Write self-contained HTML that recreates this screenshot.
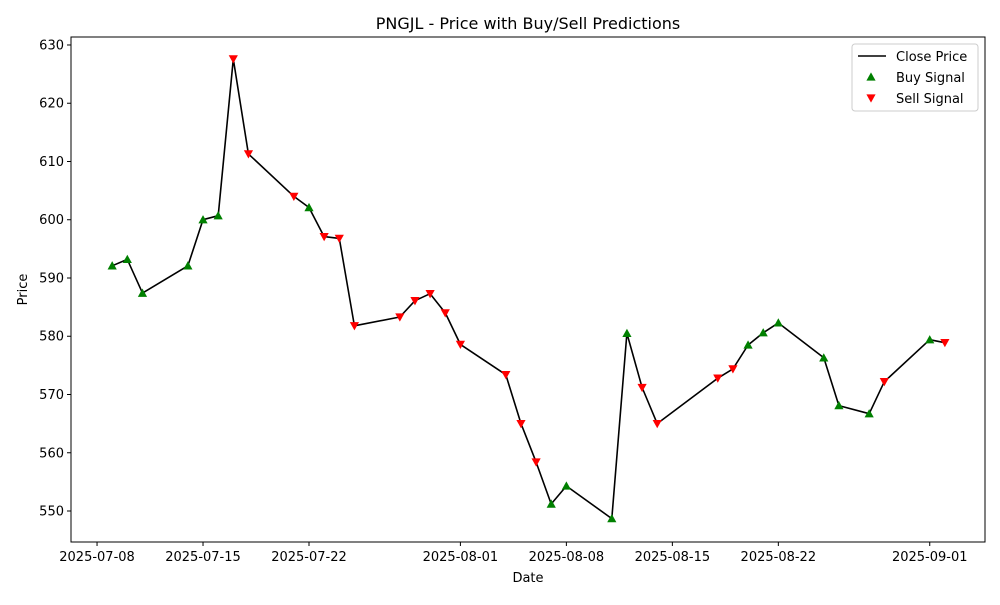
<!DOCTYPE html>
<html><head><meta charset="utf-8"><style>
body{margin:0;background:#fff;font-family:"Liberation Sans","DejaVu Sans",sans-serif}
</style></head><body>
<svg width="1000" height="600" id="c" font-family="DejaVu Sans, Liberation Sans, sans-serif">
<rect width="1000" height="600" fill="#fff"/>
</svg>
<script>
const dates=["2025-07-09","2025-07-10","2025-07-11","2025-07-14","2025-07-15","2025-07-16","2025-07-17","2025-07-18","2025-07-21","2025-07-22","2025-07-23","2025-07-24","2025-07-25","2025-07-28","2025-07-29","2025-07-30","2025-07-31","2025-08-01","2025-08-04","2025-08-05","2025-08-06","2025-08-07","2025-08-08","2025-08-11","2025-08-12","2025-08-13","2025-08-14","2025-08-18","2025-08-19","2025-08-20","2025-08-21","2025-08-22","2025-08-25","2025-08-26","2025-08-28","2025-08-29","2025-09-01","2025-09-02"];
const prices=[592.1,593.2,587.4,592.1,600.0,600.7,627.6,611.3,604.0,602.1,597.1,596.8,581.8,583.3,586.1,587.3,584.0,578.6,573.4,565.0,558.4,551.2,554.3,548.7,580.5,571.2,565.0,572.8,574.4,578.5,580.6,582.3,576.3,568.1,566.7,572.2,579.4,578.9];
const signals=["B","B","B","B","B","B","S","S","S","B","S","S","S","S","S","S","S","S","S","S","S","B","B","B","B","S","S","S","S","B","B","B","B","B","B","S","B","S"];
const yTicks=[550,560,570,580,590,600,610,620,630];
const xTicks=["2025-07-08","2025-07-15","2025-07-22","2025-08-01","2025-08-08","2025-08-15","2025-08-22","2025-09-01"];
const NS="http://www.w3.org/2000/svg",svg=document.getElementById('c');
const L=71,R=985,T=37,B=542;
const d0=Date.UTC(2025,6,8);
function dayOf(s){const p=s.split('-');return (Date.UTC(+p[0],+p[1]-1,+p[2])-d0)/864e5;}
const xMin=-1.72,xMax=58.65,yMin=544.68,yMax=631.37;
function X(s){return L+(dayOf(s)-xMin)/(xMax-xMin)*(R-L);}
function Y(v){return B-(v-yMin)/(yMax-yMin)*(B-T);}
function el(t,a,p){const e=document.createElementNS(NS,t);for(const k in a)e.setAttribute(k,a[k]);(p||svg).appendChild(e);return e;}
function tx(x,y,s,a){const e=el('text',Object.assign({x:x,y:y,'font-size':13,fill:'#000'},a||{}));e.textContent=s;return e;}
for(const v of yTicks){const y=Y(v);
 const t=el('line',{x1:L-4,x2:L,y1:y,y2:y,stroke:'#000'});
 const l=tx(L-7,y+4.5,String(v),{'text-anchor':'end'});}
for(const s of xTicks){const x=X(s);
 const t=el('line',{x1:x,x2:x,y1:B,y2:B+4,stroke:'#000'});
 const l=tx(x,B+19,s,{'text-anchor':'middle'});}
let pts=dates.map((d,i)=>X(d).toFixed(1)+','+Y(prices[i]).toFixed(1)).join(' ');
const line=el('polyline',{points:pts,fill:'none',stroke:'#000','stroke-width':1.6,'stroke-linejoin':'round'});

function tri(x,y,up,p){const s=4.6;const pp=up?`${x},${y-s} ${x-s},${y+s*0.8} ${x+s},${y+s*0.8}`:`${x},${y+s} ${x-s},${y-s*0.8} ${x+s},${y-s*0.8}`;return el('polygon',{points:pp,fill:up?'#008000':'#ff0000'},p);}
dates.forEach((d,i)=>{const m=tri(X(d),Y(prices[i]),signals[i]==='B');
 });
const fr=el('rect',{x:L,y:T,width:R-L,height:B-T,fill:'none',stroke:'#000','stroke-width':1});

const ti=tx((L+R)/2,29,'PNGJL - Price with Buy/Sell Predictions',{'text-anchor':'middle','font-size':16});

const xl=tx((L+R)/2,582,'Date',{'text-anchor':'middle'});
const yl=tx(0,0,'Price',{'text-anchor':'middle',transform:`translate(27,${(T+B)/2}) rotate(-90)`});
const g=el('g',{});
el('rect',{x:852,y:44,width:126,height:67,rx:3,fill:'#fff',stroke:'#ccc'},g);
el('line',{x1:858,x2:886,y1:56,y2:56,stroke:'#000','stroke-width':1.6},g);
const e1=tx(896,61,'Close Price');g.appendChild(e1);
tri(871,77,true,g);
const e2=tx(896,82,'Buy Signal');g.appendChild(e2);
tri(871,98,false,g);
const e3=tx(896,103,'Sell Signal');g.appendChild(e3);
</script>
</body></html>
